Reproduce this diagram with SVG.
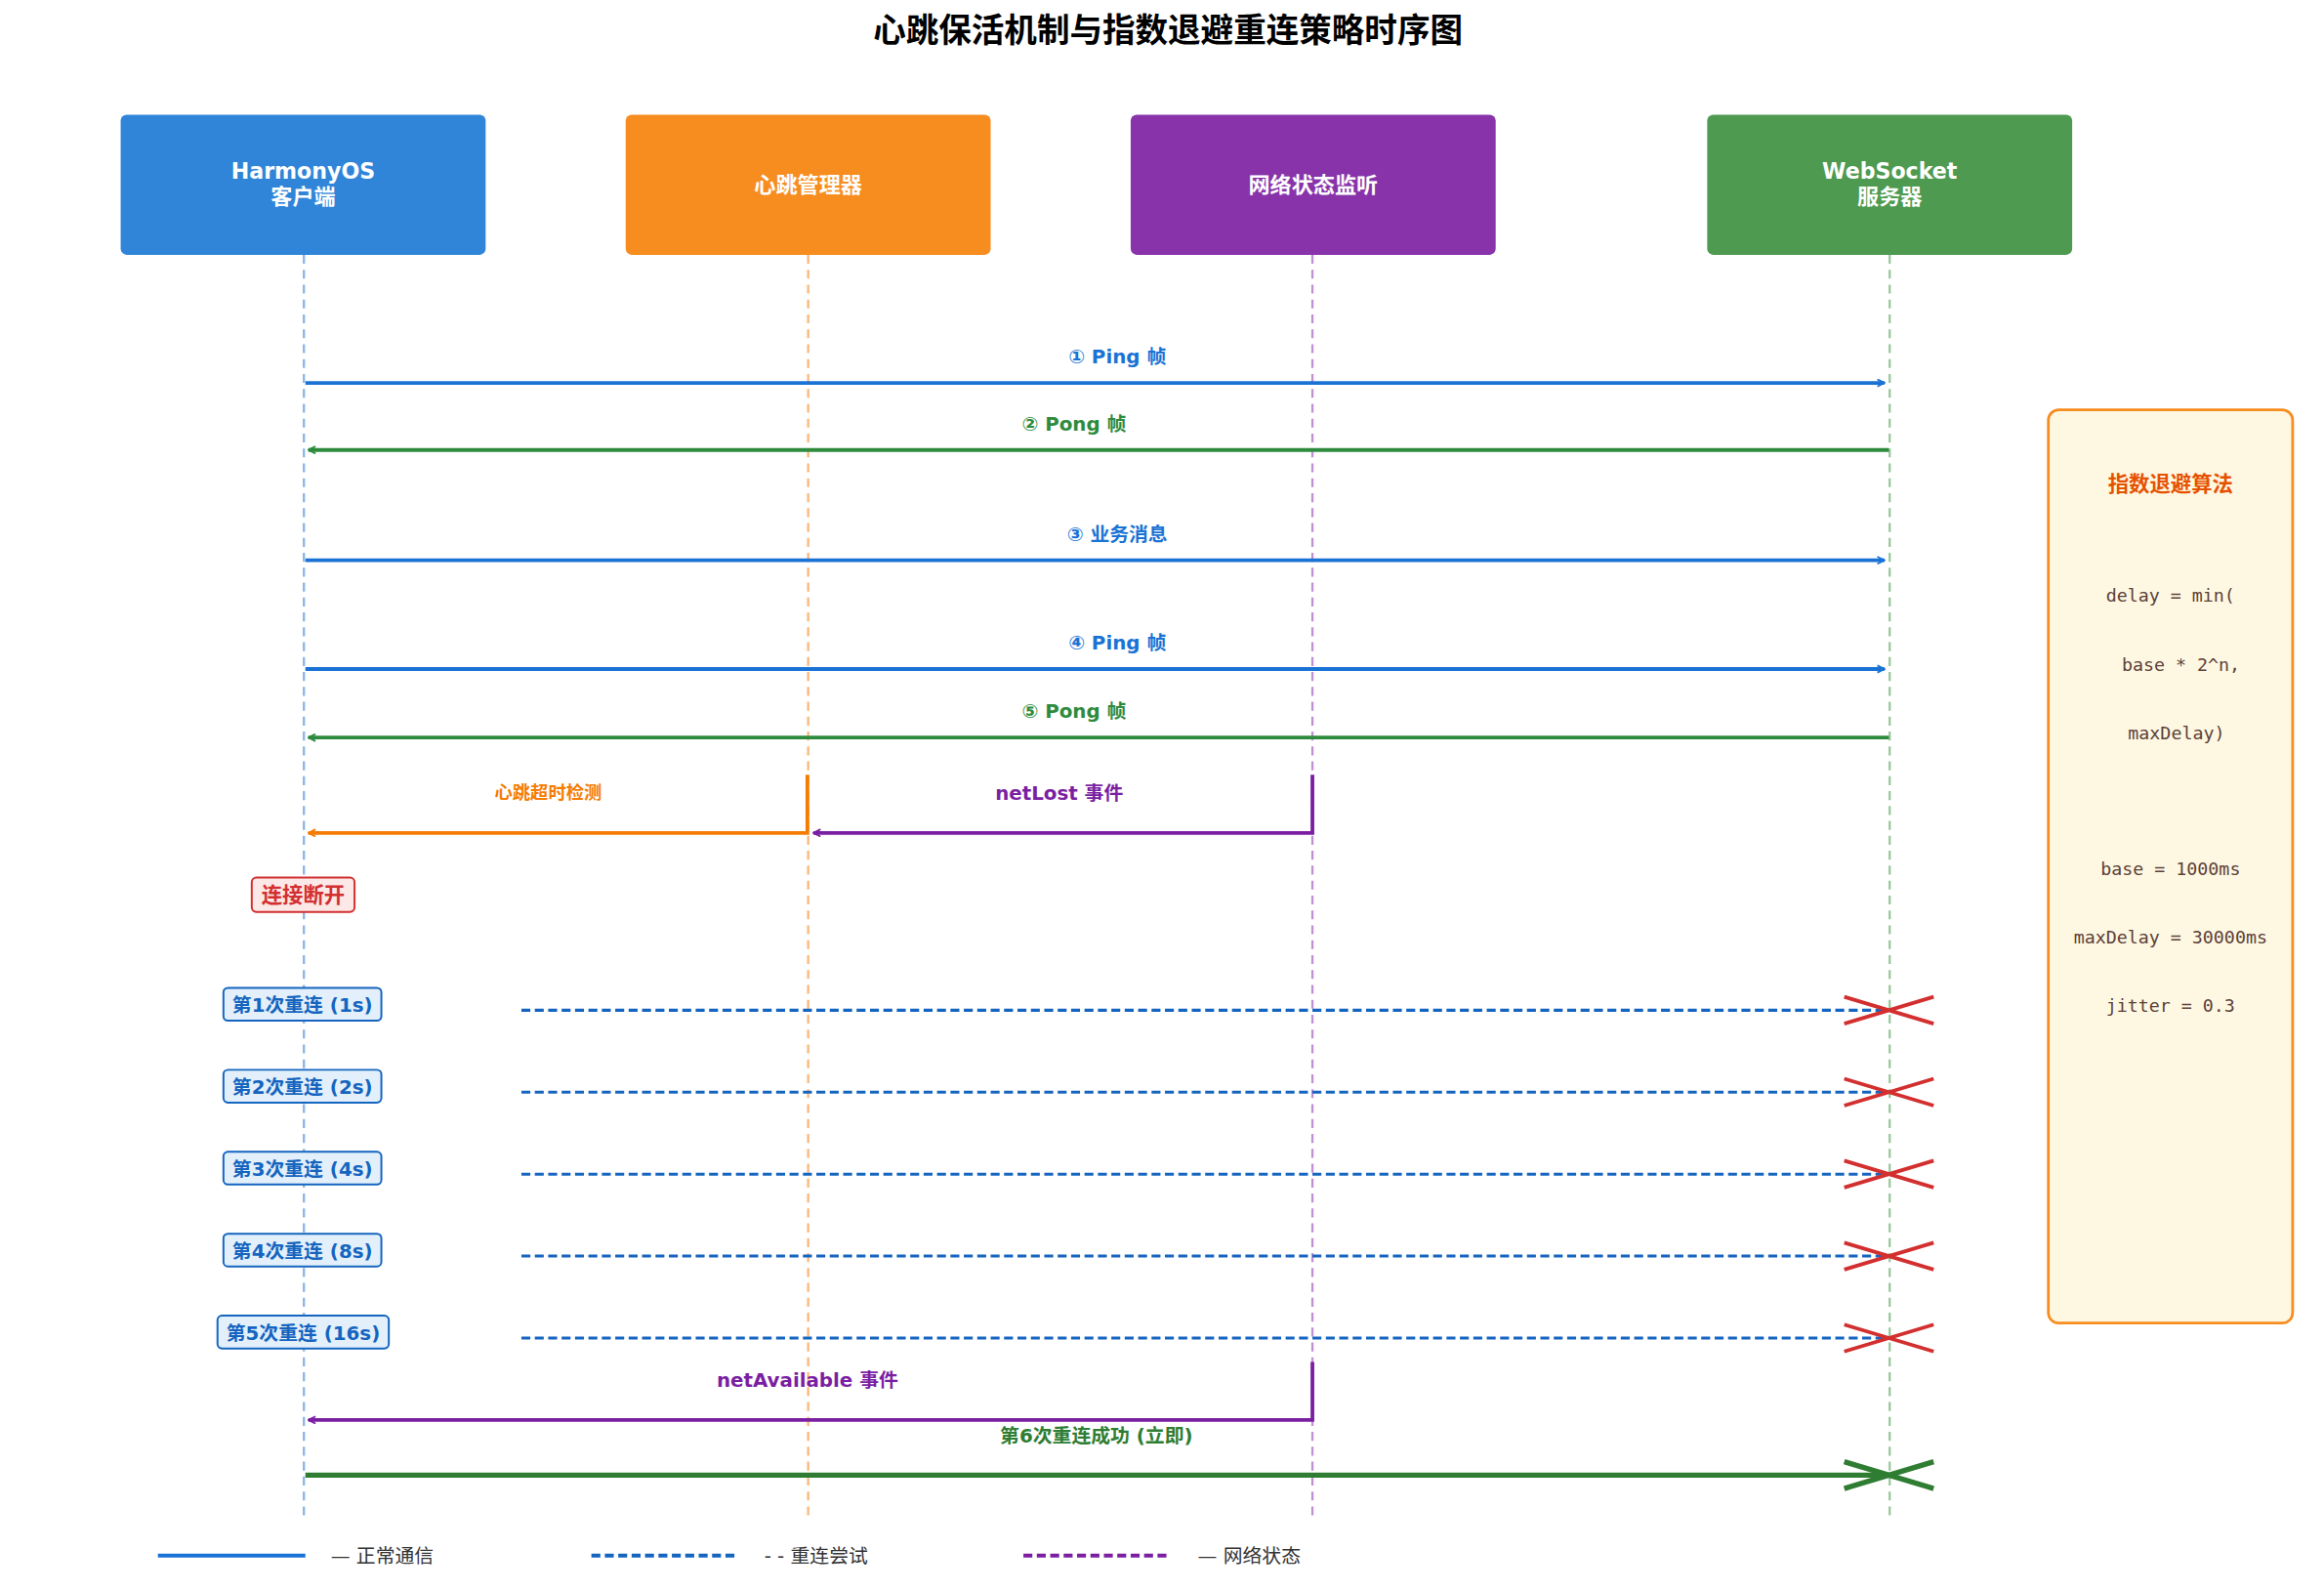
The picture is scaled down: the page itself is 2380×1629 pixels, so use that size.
<svg xmlns="http://www.w3.org/2000/svg" width="2380" height="1629" viewBox="0 0 2380 1629">
<style>
text{font-family:"DejaVu Sans","Noto Sans CJK SC",sans-serif;text-anchor:middle}
.t{font-size:22px;font-weight:bold;fill:#000}
.nt{font-size:14.5px;font-weight:bold;fill:#fff}
.lb{font-size:13px;font-weight:bold}
.mono{font-family:"DejaVu Sans Mono","Liberation Mono",monospace;font-size:12px;fill:#5d4037}
.rc{fill:#e3f0fb;stroke:#1565c0;stroke-width:1.3}
.rt{font-size:13px;font-weight:bold;fill:#1565c0}
.rd{stroke:#1565c0;stroke-width:2;stroke-dasharray:6,3;fill:none}
.x{stroke:#d32f2f;stroke-width:2.5}
.leg{font-size:13px;fill:#333;text-anchor:start}
</style>
<defs>
<marker id="ab" viewBox="0 0 10 10" refX="9" refY="5" markerWidth="6" markerHeight="6" markerUnits="userSpaceOnUse" orient="auto"><path d="M1,1 L9,5 L1,9" fill="none" stroke="#1a73d4" stroke-width="2"/></marker>
<marker id="ag" viewBox="0 0 10 10" refX="9" refY="5" markerWidth="6" markerHeight="6" markerUnits="userSpaceOnUse" orient="auto"><path d="M1,1 L9,5 L1,9" fill="none" stroke="#2e8b3e" stroke-width="2"/></marker>
<marker id="ao" viewBox="0 0 10 10" refX="9" refY="5" markerWidth="6" markerHeight="6" markerUnits="userSpaceOnUse" orient="auto"><path d="M1,1 L9,5 L1,9" fill="none" stroke="#f57c00" stroke-width="2"/></marker>
<marker id="ap" viewBox="0 0 10 10" refX="9" refY="5" markerWidth="6" markerHeight="6" markerUnits="userSpaceOnUse" orient="auto"><path d="M1,1 L9,5 L1,9" fill="none" stroke="#7b1fa2" stroke-width="2"/></marker>
<marker id="ad" viewBox="0 0 10 10" refX="9" refY="5" markerWidth="6" markerHeight="6" markerUnits="userSpaceOnUse" orient="auto"><path d="M1,1 L9,5 L1,9" fill="none" stroke="#1565c0" stroke-width="2"/></marker>
</defs>
<rect width="2380" height="1629" fill="#fff"/>
<g transform="scale(1.5256)">
<text class="t" x="784" y="28">心跳保活机制与指数退避重连策略时序图</text>
<g id="lifelines" stroke-width="1.5" stroke-dasharray="6,4">
<line x1="204" y1="171" x2="204" y2="1018" stroke="#8ab4e6"/>
<line x1="542.5" y1="171" x2="542.5" y2="1018" stroke="#fbb77a"/>
<line x1="881" y1="171" x2="881" y2="1018" stroke="#c08fd4"/>
<line x1="1268.5" y1="171" x2="1268.5" y2="1018" stroke="#99c79b"/>
</g>
<g id="client"><rect x="81" y="77" width="245" height="94" rx="4" fill="#3085d9"/><text class="nt" x="203.5" y="120">HarmonyOS</text><text class="nt" x="203.5" y="137">客户端</text></g>
<g id="hb"><rect x="420" y="77" width="245" height="94" rx="4" fill="#f78c1f"/><text class="nt" x="542.5" y="129">心跳管理器</text></g>
<g id="net"><rect x="759" y="77" width="245" height="94" rx="4" fill="#8833aa"/><text class="nt" x="881.5" y="129">网络状态监听</text></g>
<g id="server"><rect x="1146" y="77" width="245" height="94" rx="4" fill="#4e9a50"/><text class="nt" x="1268.5" y="120">WebSocket</text><text class="nt" x="1268.5" y="137">服务器</text></g>
<g id="connectors" fill="none">
<line x1="205" y1="257" x2="1265" y2="257" stroke="#1a73d4" stroke-width="2.5" marker-end="url(#ab)"/>
<line x1="1268" y1="302" x2="207" y2="302" stroke="#2e8b3e" stroke-width="2.5" marker-end="url(#ag)"/>
<line x1="205" y1="376" x2="1265" y2="376" stroke="#1a73d4" stroke-width="2.5" marker-end="url(#ab)"/>
<line x1="205" y1="449" x2="1265" y2="449" stroke="#1a73d4" stroke-width="2.5" marker-end="url(#ab)"/>
<line x1="1268" y1="495" x2="207" y2="495" stroke="#2e8b3e" stroke-width="2.5" marker-end="url(#ag)"/>
<path d="M542,520 V559 H207" stroke="#f57c00" stroke-width="2.5" marker-end="url(#ao)"/>
<path d="M881,520 V559 H546" stroke="#7b1fa2" stroke-width="2.5" marker-end="url(#ap)"/>
<line class="rd" x1="350" y1="678" x2="1265" y2="678" marker-end="url(#ad)"/>
<line class="rd" x1="350" y1="733" x2="1265" y2="733" marker-end="url(#ad)"/>
<line class="rd" x1="350" y1="788" x2="1265" y2="788" marker-end="url(#ad)"/>
<line class="rd" x1="350" y1="843" x2="1265" y2="843" marker-end="url(#ad)"/>
<line class="rd" x1="350" y1="898" x2="1265" y2="898" marker-end="url(#ad)"/>
<path d="M881,914 V953 H207" stroke="#7b1fa2" stroke-width="2.5" marker-end="url(#ap)"/>
<line x1="205" y1="990" x2="1265" y2="990" stroke="#2e7d32" stroke-width="3.5"/>
<g class="x">
<path d="M1238,669 L1298,687 M1238,687 L1298,669"/>
<path d="M1238,724 L1298,742 M1238,742 L1298,724"/>
<path d="M1238,779 L1298,797 M1238,797 L1298,779"/>
<path d="M1238,834 L1298,852 M1238,852 L1298,834"/>
<path d="M1238,889 L1298,907 M1238,907 L1298,889"/>
</g>
<path d="M1238,981 L1298,999 M1238,999 L1298,981" stroke="#2e7d32" stroke-width="3.5"/>
</g>
<g id="labels" class="lb">
<text x="750" y="244" fill="#1a73d4">① Ping 帧</text>
<text x="721" y="289" fill="#2e8b3e">② Pong 帧</text>
<text x="750" y="363" fill="#1a73d4">③ 业务消息</text>
<text x="750" y="436" fill="#1a73d4">④ Ping 帧</text>
<text x="721" y="482" fill="#2e8b3e">⑤ Pong 帧</text>
<text x="368" y="536" fill="#f57c00" style="font-size:12px">心跳超时检测</text>
<text x="711" y="537" fill="#7b1fa2">netLost 事件</text>
<text x="542" y="931" fill="#7b1fa2">netAvailable 事件</text>
<text x="736" y="968" fill="#2e7d32">第6次重连成功 (立即)</text>
</g>
<g id="disconnect"><rect x="169" y="589" width="69" height="23" rx="3" fill="#fde8e8" stroke="#d32f2f" stroke-width="1.3"/><text x="203.5" y="605.5" class="lb" fill="#d32f2f" style="font-size:14px">连接断开</text></g>
<g id="r1"><rect class="rc" x="150" y="663" width="106" height="22" rx="3"/><text class="rt" x="203" y="679">第1次重连 (1s)</text></g>
<g id="r2"><rect class="rc" x="150" y="718" width="106" height="22" rx="3"/><text class="rt" x="203" y="734">第2次重连 (2s)</text></g>
<g id="r3"><rect class="rc" x="150" y="773" width="106" height="22" rx="3"/><text class="rt" x="203" y="789">第3次重连 (4s)</text></g>
<g id="r4"><rect class="rc" x="150" y="828" width="106" height="22" rx="3"/><text class="rt" x="203" y="844">第4次重连 (8s)</text></g>
<g id="r5"><rect class="rc" x="146" y="883" width="115" height="22" rx="3"/><text class="rt" x="203.5" y="899">第5次重连 (16s)</text></g>
<g id="algo">
<rect x="1375" y="275" width="164" height="613" rx="7" fill="#fef8e3" stroke="#f78c1f" stroke-width="1.8"/>
<text x="1457" y="330" class="lb" fill="#e65100" style="font-size:14px">指数退避算法</text>
<text class="mono" x="1457" y="404">delay = min(</text>
<text class="mono" x="1464" y="450">base * 2^n,</text>
<text class="mono" x="1461" y="496">maxDelay)</text>
<text class="mono" x="1457" y="587">base = 1000ms</text>
<text class="mono" x="1457" y="633">maxDelay = 30000ms</text>
<text class="mono" x="1457" y="679">jitter = 0.3</text>
</g>
<g id="legend">
<line x1="106" y1="1044" x2="205" y2="1044" stroke="#1a73d4" stroke-width="2.5"/>
<text class="leg" x="222" y="1049">— 正常通信</text>
<line x1="397" y1="1044" x2="494" y2="1044" stroke="#1565c0" stroke-width="2.5" stroke-dasharray="6,3"/>
<text class="leg" x="513" y="1049">- - 重连尝试</text>
<line x1="687" y1="1044" x2="784" y2="1044" stroke="#7b1fa2" stroke-width="2.5" stroke-dasharray="6,3"/>
<text class="leg" x="804" y="1049">— 网络状态</text>
</g>
</g>
</svg>
